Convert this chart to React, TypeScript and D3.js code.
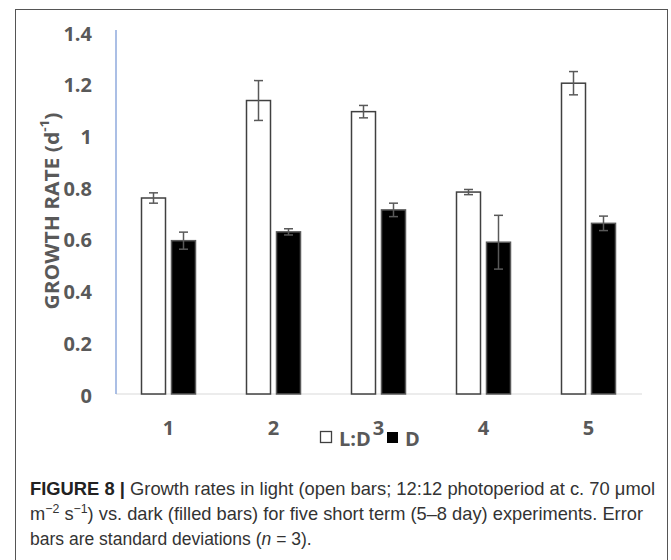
import React, { useEffect, useRef } from 'react';
import * as d3 from 'd3';

const width = 671;
const height = 560;

// chart data
const categories = ['1', '2', '3', '4', '5'];
const ldValues = [0.758, 1.135, 1.092, 0.781, 1.202];
const ldErrors = [0.02, 0.077, 0.024, 0.01, 0.045];
const dValues = [0.593, 0.627, 0.712, 0.587, 0.66];
const dErrors = [0.033, 0.012, 0.026, 0.104, 0.028];
const yTicks = [0, 0.2, 0.4, 0.6, 0.8, 1, 1.2, 1.4];
const seriesNames = ['L:D', 'D'];

const plotLeft = 116;
const plotRight = 641;
const plotTop = 32;
const plotBottom = 394;

const barWidth = 24;
const barOffset = 15;
const tickColor = '#595959';
const tickFont = "'Open Sans', sans-serif";
const tickSize = 20;
const captionFont = "'Liberation Sans', Arial, sans-serif";

const App = () => {
  const axisRef = useRef(null);
  const barsRef = useRef(null);
  const legendRef = useRef(null);

  const x = d3.scaleBand().domain(categories).range([plotLeft, plotRight]).padding(0);
  const y = d3.scaleLinear().domain([0, 1.4]).range([plotBottom, plotTop]);

  useEffect(() => {
    document.body.style.margin = '0';

    const axisG = d3.select(axisRef.current);
    axisG.selectAll('*').remove();

    // baseline
    axisG
      .append('line')
      .attr('x1', plotLeft)
      .attr('x2', plotRight + 1)
      .attr('y1', y(0))
      .attr('y2', y(0))
      .attr('stroke', '#D9D9D9')
      .attr('stroke-width', 1.2);

    // left axis in blue
    axisG
      .append('line')
      .attr('x1', plotLeft)
      .attr('x2', plotLeft)
      .attr('y1', y(1.4) - 2)
      .attr('y2', y(0))
      .attr('stroke', '#8FAADC')
      .attr('stroke-width', 1.5);

    axisG
      .append('g')
      .selectAll('text')
      .data(yTicks)
      .join('text')
      .attr('x', 92)
      .attr('y', (d) => y(d) + 1)
      .attr('text-anchor', 'end')
      .attr('dominant-baseline', 'central')
      .attr('font-family', tickFont)
      .attr('font-weight', 700)
      .attr('font-size', tickSize)
      .attr('fill', tickColor)
      .text((d) => d3.format('~g')(d));

    axisG
      .append('g')
      .selectAll('text')
      .data(categories)
      .join('text')
      .attr('x', (d) => x(d)! + x.bandwidth() / 2)
      .attr('y', 427)
      .attr('text-anchor', 'middle')
      .attr('dominant-baseline', 'central')
      .attr('font-family', tickFont)
      .attr('font-weight', 700)
      .attr('font-size', tickSize)
      .attr('fill', tickColor)
      .text((d) => d);

    // y title
    const title = axisG
      .append('text')
      .attr('transform', 'translate(51,211) rotate(-90)')
      .attr('text-anchor', 'middle')
      .attr('dominant-baseline', 'central')
      .attr('font-family', tickFont)
      .attr('font-weight', 700)
      .attr('font-size', 20)
      .attr('fill', tickColor)
      .attr('textLength', 197)
      .attr('lengthAdjust', 'spacingAndGlyphs');
    title.append('tspan').text('GROWTH RATE (d');
    title.append('tspan').attr('dy', -7).attr('font-size', 13).text('-1');
    title.append('tspan').attr('dy', 7).text(')');
  }, []);

  useEffect(() => {
    const g = d3.select(barsRef.current);
    g.selectAll('*').remove();

    const series = [
      { values: ldValues, errors: ldErrors, offset: -barOffset, fill: '#ffffff', stroke: '#404040' },
      { values: dValues, errors: dErrors, offset: barOffset, fill: '#000000', stroke: '#595959' },
    ];

    series.forEach((s) => {
      const cx = (i: number) => x(categories[i])! + x.bandwidth() / 2 + s.offset;

      g.append('g')
        .selectAll('rect')
        .data(s.values)
        .join('rect')
        .attr('x', (d, i) => cx(i) - barWidth / 2)
        .attr('y', (d) => y(d))
        .attr('width', barWidth)
        .attr('height', (d) => y(0) - y(d))
        .attr('fill', s.fill)
        .attr('stroke', s.stroke)
        .attr('stroke-width', 1.5);

      const err = g
        .append('g')
        .attr('stroke', tickColor)
        .attr('stroke-width', 1.5)
        .selectAll('g')
        .data(s.values)
        .join('g');

      err
        .append('line')
        .attr('x1', (d, i) => cx(i))
        .attr('x2', (d, i) => cx(i))
        .attr('y1', (d, i) => y(d + s.errors[i]))
        .attr('y2', (d, i) => y(d - s.errors[i]));
      err
        .append('line')
        .attr('x1', (d, i) => cx(i) - 4.5)
        .attr('x2', (d, i) => cx(i) + 4.5)
        .attr('y1', (d, i) => y(d + s.errors[i]))
        .attr('y2', (d, i) => y(d + s.errors[i]));
      err
        .append('line')
        .attr('x1', (d, i) => cx(i) - 4.5)
        .attr('x2', (d, i) => cx(i) + 4.5)
        .attr('y1', (d, i) => y(d - s.errors[i]))
        .attr('y2', (d, i) => y(d - s.errors[i]));
    });
  }, []);

  useEffect(() => {
    const g = d3.select(legendRef.current);
    g.selectAll('*').remove();

    // open square + L:D
    g.append('rect')
      .attr('x', 320.5)
      .attr('y', 431.5)
      .attr('width', 11)
      .attr('height', 11)
      .attr('fill', '#fff')
      .attr('stroke', '#404040')
      .attr('stroke-width', 1.3);
    g.append('text')
      .attr('x', 339)
      .attr('y', 438)
      .attr('dominant-baseline', 'central')
      .attr('font-family', tickFont)
      .attr('font-weight', 700)
      .attr('font-size', tickSize)
      .attr('fill', tickColor)
      .text(seriesNames[0]);

    // filled square + D
    g.append('rect')
      .attr('x', 387)
      .attr('y', 432)
      .attr('width', 11)
      .attr('height', 11)
      .attr('fill', '#000');
    g.append('text')
      .attr('x', 405)
      .attr('y', 438)
      .attr('dominant-baseline', 'central')
      .attr('font-family', tickFont)
      .attr('font-weight', 700)
      .attr('font-size', tickSize)
      .attr('fill', tickColor)
      .text(seriesNames[1]);
  }, []);

  return (
    <svg
      width={width}
      height={height}
      viewBox={`0 0 ${width} ${height}`}
      style={{ position: 'fixed', left: 0, top: 0, background: '#fff' }}
    >
      <rect x={15.5} y={9.5} width={652} height={height} fill="none" stroke="#555" strokeWidth={1} />
      <g ref={axisRef}></g>
      <g ref={barsRef}></g>
      <g ref={legendRef}></g>

      <g fontFamily={captionFont} fontSize={18.5} fill="#333">
        <text x={30} y={495} textLength={625} lengthAdjust="spacingAndGlyphs">
          <tspan fontWeight={700} fill="#222">FIGURE 8 |</tspan>
          <tspan> Growth rates in light (open bars; 12:12 photoperiod at c. 70 μmol</tspan>
        </text>
        <text x={30} y={520} textLength={613} lengthAdjust="spacingAndGlyphs">
          <tspan>m</tspan>
          <tspan dy={-7} fontSize={12.5}>−2</tspan>
          <tspan dy={7}> s</tspan>
          <tspan dy={-7} fontSize={12.5}>−1</tspan>
          <tspan dy={7}>) vs. dark (filled bars) for five short term (5–8 day) experiments. Error</tspan>
        </text>
        <text x={30} y={545} fontSize={17.5}>
          bars are standard deviations (<tspan fontStyle="italic">n</tspan> = 3).
        </text>
      </g>
    </svg>
  );
};

export default App;
